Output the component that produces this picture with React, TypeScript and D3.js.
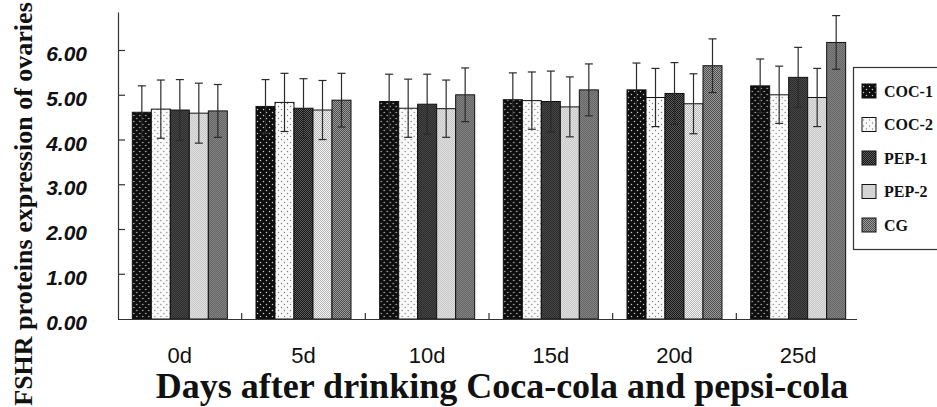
import React from 'react';
import * as d3 from 'd3';

// data
const days = ['0d', '5d', '10d', '15d', '20d', '25d'];
const groups = ['COC-1', 'COC-2', 'PEP-1', 'PEP-2', 'CG'];

const coc1 = [4.62, 4.75, 4.86, 4.9, 5.12, 5.21];
const coc2 = [4.69, 4.84, 4.71, 4.88, 4.95, 5.01];
const pep1 = [4.67, 4.71, 4.8, 4.86, 5.04, 5.4];
const pep2 = [4.6, 4.67, 4.7, 4.74, 4.81, 4.95];
const cg = [4.65, 4.89, 5.01, 5.12, 5.66, 6.18];

const coc1Sd = [0.59, 0.6, 0.61, 0.6, 0.6, 0.6];
const coc2Sd = [0.65, 0.65, 0.65, 0.64, 0.65, 0.64];
const pep1Sd = [0.68, 0.66, 0.67, 0.68, 0.69, 0.67];
const pep2Sd = [0.67, 0.66, 0.64, 0.67, 0.67, 0.65];
const cgSd = [0.59, 0.6, 0.6, 0.58, 0.6, 0.6];

const yTicks = [0, 1, 2, 3, 4, 5, 6];

const values = [coc1, coc2, pep1, pep2, cg];
const sds = [coc1Sd, coc2Sd, pep1Sd, pep2Sd, cgSd];
const patternIds = ['pCoc1', 'pCoc2', 'pPep1', 'pPep2', 'pCg'];

const W = 937;
const H = 407;

export default function App() {
  const margin = { left: 118, right: 77, top: 12, bottom: 88 };
  const plotBottom = H - margin.bottom; // 319

  const x0 = d3
    .scaleBand<string>()
    .domain(days)
    .range([margin.left, 860])
    .padding(0);

  const groupWidth = 95;
  const x1 = d3.scaleBand<string>().domain(groups).range([0, groupWidth]);

  const y = d3.scaleLinear().domain([0, 6.85]).range([plotBottom, plotBottom - 6.85 * 44.75]);

  const groupLeft = (d: string) => (x0(d) as number) + (x0.bandwidth() - groupWidth) / 2;

  const serif = '"Liberation Serif", "Times New Roman", serif';
  const sans = '"Liberation Sans", Arial, sans-serif';
  const axisColor = '#333';

  return (
    <div style={{ position: 'absolute', left: 0, top: 0 }}>
      <svg width={W} height={H} style={{ display: 'block', background: '#fff' }}>
        <defs>
          <pattern id="pCoc1" patternUnits="userSpaceOnUse" width={6} height={6}>
            <rect width={6} height={6} fill="#0d0d0d" />
            <circle cx={1.5} cy={1.5} r={0.75} fill="#c8c8c8" />
            <circle cx={4.5} cy={4.5} r={0.75} fill="#c8c8c8" />
          </pattern>
          <pattern id="pCoc2" patternUnits="userSpaceOnUse" width={6} height={6}>
            <rect width={6} height={6} fill="#fafafa" />
            <circle cx={1.5} cy={1.5} r={0.7} fill="#7a7a7a" />
            <circle cx={4.5} cy={4.5} r={0.7} fill="#7a7a7a" />
          </pattern>
          <pattern id="pPep1" patternUnits="userSpaceOnUse" width={2} height={2}>
            <rect width={2} height={2} fill="#161616" />
            <rect width={1} height={1} fill="#5c5c5c" />
            <rect x={1} y={1} width={1} height={1} fill="#5c5c5c" />
          </pattern>
          <pattern id="pPep2" patternUnits="userSpaceOnUse" width={2} height={2}>
            <rect width={2} height={2} fill="#f4f4f4" />
            <rect width={1} height={1} fill="#b4b4b4" />
            <rect x={1} y={1} width={1} height={1} fill="#b4b4b4" />
          </pattern>
          <pattern id="pCg" patternUnits="userSpaceOnUse" width={2} height={2}>
            <rect width={2} height={2} fill="#4c4c4c" />
            <rect width={1} height={1} fill="#9c9c9c" />
            <rect x={1} y={1} width={1} height={1} fill="#9c9c9c" />
          </pattern>
        </defs>

        {/* bars */}
        {days.map((d, i) => (
          <g key={d} transform={`translate(${groupLeft(d)},0)`}>
            {groups.map((g, k) => {
              const v = values[k][i];
              const bx = x1(g) as number;
              return (
                <rect
                  key={g}
                  x={bx}
                  y={y(v)}
                  width={x1.bandwidth()}
                  height={y(0) - y(v)}
                  fill={`url(#${patternIds[k]})`}
                  stroke="#111"
                  strokeWidth={1}
                />
              );
            })}
          </g>
        ))}

        {/* error bars */}
        {days.map((d, i) => (
          <g key={`e-${d}`} transform={`translate(${groupLeft(d)},0)`}>
            {groups.map((g, k) => {
              const v = values[k][i];
              const s = sds[k][i];
              const cx = (x1(g) as number) + x1.bandwidth() / 2;
              const hi = y(v + s);
              const lo = y(v - s);
              return (
                <g key={g} stroke="#2a2a2a" strokeWidth={1.2}>
                  <line x1={cx} x2={cx} y1={hi} y2={lo} />
                  <line x1={cx - 4} x2={cx + 4} y1={hi} y2={hi} />
                  <line x1={cx - 4} x2={cx + 4} y1={lo} y2={lo} />
                </g>
              );
            })}
          </g>
        ))}

        {/* axes */}
        <line x1={margin.left + 0.5} x2={margin.left + 0.5} y1={y(6.85)} y2={plotBottom} stroke={axisColor} strokeWidth={1.2} />
        <line x1={margin.left} x2={857} y1={plotBottom + 0.5} y2={plotBottom + 0.5} stroke={axisColor} strokeWidth={1.2} />
        {yTicks.slice(1).map((t) => (
          <line key={t} x1={margin.left} x2={margin.left + 7} y1={y(t)} y2={y(t)} stroke={axisColor} strokeWidth={1.2} />
        ))}
        {days.slice(1).map((d) => (
          <line key={d} x1={x0(d) as number} x2={x0(d) as number} y1={plotBottom} y2={plotBottom - 6} stroke={axisColor} strokeWidth={1.2} />
        ))}

        {/* y tick labels */}
        {yTicks.map((t) => (
          <text
            key={t}
            x={87}
            y={y(t)}
            dy="0.5em"
            textAnchor="end"
            fontFamily={sans}
            fontWeight="bold"
            fontStyle="italic"
            fontSize={21}
            fill="#111"
          >
            {t.toFixed(2)}
          </text>
        ))}

        {/* x tick labels */}
        {days.map((d) => (
          <text
            key={d}
            x={(x0(d) as number) + x0.bandwidth() / 2}
            y={363}
            textAnchor="middle"
            fontFamily={sans}
            fontSize={22}
            fill="#111"
          >
            {d}
          </text>
        ))}

        {/* axis titles */}
        <text
          transform={`translate(32,204) rotate(-90)`}
          textAnchor="middle"
          fontFamily={serif}
          fontWeight="bold"
          fontSize={26}
          fill="#111"
        >
          FSHR proteins expression of ovaries
        </text>
        <text x={502} y={398} textAnchor="middle" fontFamily={serif} fontWeight="bold" fontSize={36} fill="#111">
          Days after drinking Coca-cola and pepsi-cola
        </text>

        {/* legend */}
        <rect x={853.5} y={67.5} width={100} height={182} fill="#fff" stroke={axisColor} strokeWidth={1.2} />
        {groups.map((g, k) => (
          <g key={g} transform={`translate(862,${91 + k * 33.5})`}>
            <rect x={0} y={-7} width={14} height={14} fill={`url(#${patternIds[k]})`} stroke="#111" strokeWidth={1} />
            <text x={22} y={0} dy="0.35em" fontFamily={serif} fontWeight="bold" fontSize={16} fill="#111">
              {g}
            </text>
          </g>
        ))}
      </svg>
    </div>
  );
}
